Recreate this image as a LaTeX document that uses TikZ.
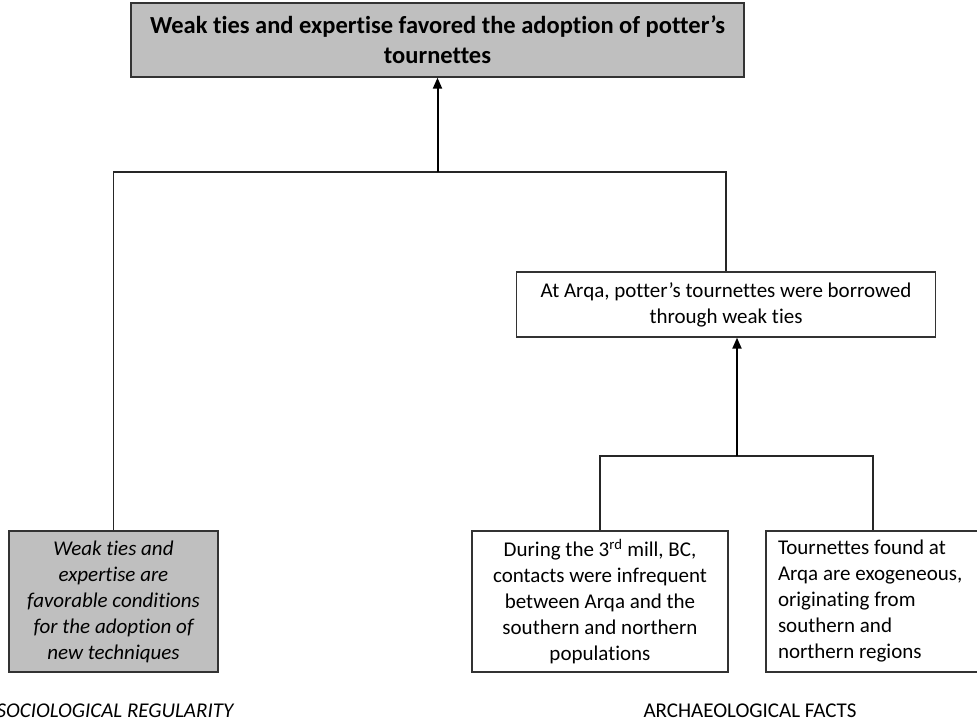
\documentclass[tikz,border=0pt]{standalone}
\usepackage{fontspec}
\setmainfont{Carlito}[Ligatures=NoCommon]
\usetikzlibrary{arrows.meta}
\begin{document}
\begin{tikzpicture}[x=1pt,y=-1pt,
  box/.style={draw=black!80, line width=1.3pt, inner sep=0pt, align=center, font=\fontsize{21}{26}\selectfont},
  link/.style={draw=black!85, line width=1.1pt},
  arr/.style={draw=black, line width=2pt, -{Triangle[length=11pt,width=9pt]}},
  lab/.style={inner sep=0pt, anchor=base, font=\fontsize{21}{26}\selectfont},
]
\useasboundingbox (0,0) rectangle (977,720);
\node[box, fill=gray!50, minimum width=613pt, minimum height=74pt, font=\bfseries\fontsize{24.5}{30}\selectfont] (top) at (437.5,40) {Weak ties and expertise favored the adoption of potter’s\\tournettes};
\node[box, fill=white, minimum width=419pt, minimum height=65pt] (mid) at (726,304.5) {At Arqa, potter’s tournettes were borrowed\\through weak ties};
\node[box, fill=gray!50, minimum width=209pt, minimum height=141pt, font=\itshape\fontsize{21}{26}\selectfont] (soc) at (113.5,601.5) {Weak ties and\\expertise are\\favorable conditions\\for the adoption of\\new techniques};
\node[box, fill=white, minimum width=256pt, minimum height=141pt] (fa) at (600,601.5) {During the 3\textsuperscript{rd} mill, BC,\\contacts were infrequent\\between Arqa and the\\southern and northern\\populations};
\node[box, fill=white, align=flush left, text width=190pt, inner xsep=12pt, minimum height=141pt] (fb) at (873,601.5) {Tournettes found at\\Arqa are exogeneous,\\originating from\\southern and\\northern regions};
\node[lab, font=\itshape\fontsize{21}{26}\selectfont] (soclab) at (115,717) {SOCIOLOGICAL REGULARITY};
\node[lab] (archlab) at (750,717) {ARCHAEOLOGICAL FACTS};
\coordinate (j1) at (437.5,172);
\coordinate (j2) at (737,456);
\draw[link] (soc.north) |- (j1) -| (mid.north);
\draw[arr] (j1) -- (top.south);
\draw[link] (fa.north) |- (j2) -| (fb.north);
\draw[arr] (j2) -- (j2 |- mid.south);
\end{tikzpicture}
\end{document}
